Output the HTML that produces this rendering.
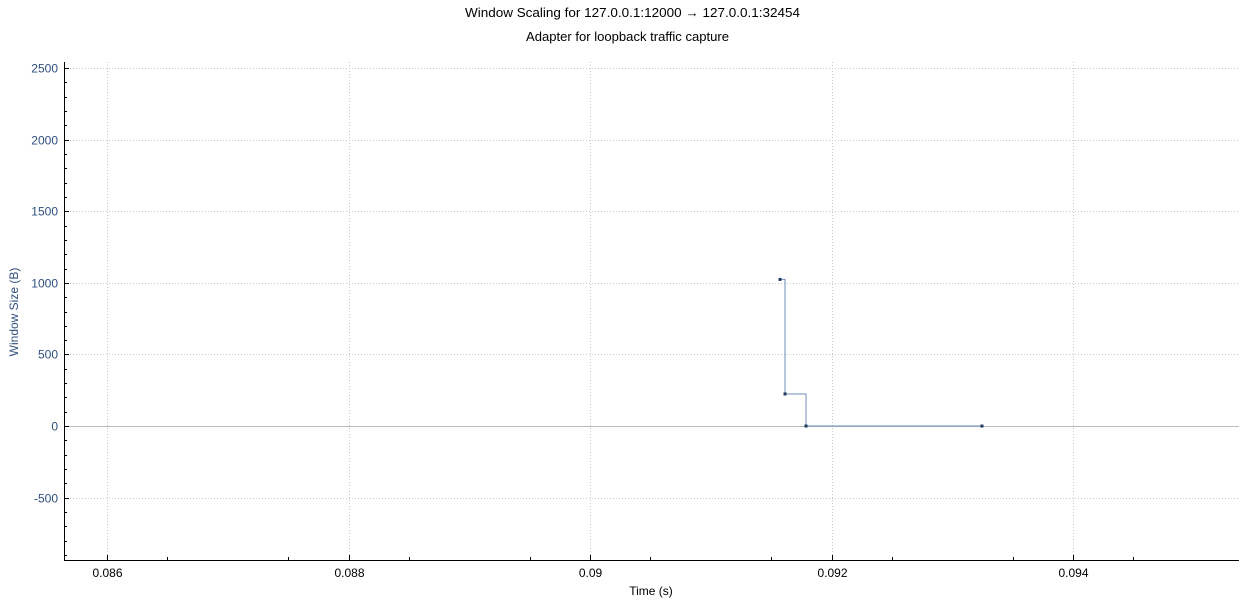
<!DOCTYPE html>
<html><head><meta charset="utf-8"><style>
body{margin:0;background:#fff;}
svg text{font-family:"Liberation Sans","DejaVu Sans",sans-serif;}
</style></head><body>
<svg id="chart" width="1254" height="604" xmlns="http://www.w3.org/2000/svg">
<text x="465" y="17" font-size="12.5" fill="#000" textLength="335" lengthAdjust="spacingAndGlyphs">Window Scaling for 127.0.0.1:12000 → 127.0.0.1:32454</text>
<text x="526" y="41" font-size="12.5" fill="#000" textLength="203" lengthAdjust="spacingAndGlyphs">Adapter for loopback traffic capture</text>
<g id="grid"></g>
<g id="axes"></g>
<g id="series"></g>
<text x="651" y="595" text-anchor="middle" font-size="12" fill="#000">Time (s)</text>
<text transform="translate(18,312) rotate(-90)" text-anchor="middle" font-size="12" fill="#2f4f7f">Window Size (B)</text>
</svg>
<script>
const times = [0.091574, 0.091615, 0.091789, 0.093246];
const windowSizes = [1024, 224, 0, 0];
const xTicks = [0.086, 0.088, 0.090, 0.092, 0.094];
const xTickLabels = ["0.086", "0.088", "0.09", "0.092", "0.094"];
const yTicks = [-500, 0, 500, 1000, 1500, 2000, 2500];

const L=64,R=1239,T=62,B=560;
const xMin=0.086-43/120750, xMax=0.086+1132/120750;
const yMin=-936, yMax=2543;
const xs=v=>L+(v-xMin)/(xMax-xMin)*(R-L);
const ys=v=>B-(v-yMin)/(yMax-yMin)*(B-T);
const NS="http://www.w3.org/2000/svg";
function mk(tag,attrs,parent){const e=document.createElementNS(NS,tag);for(const k in attrs)e.setAttribute(k,attrs[k]);parent.appendChild(e);return e;}
const grid=document.getElementById('grid'),axes=document.getElementById('axes'),ser=document.getElementById('series');
xTicks.forEach((t,i)=>{const x=Math.round(xs(t))+0.5;
 const g=mk('line',{x1:x,x2:x,y1:T,y2:B,stroke:'#c8c8c8','stroke-dasharray':'1,2'},grid);
 
 
 mk('line',{x1:x,x2:x,y1:B,y2:B-5,stroke:'#000'},axes);
 const tx=mk('text',{x:x,y:B+17,'text-anchor':'middle','font-size':12,fill:'#000'},axes);tx.textContent=xTickLabels[i];
 
 
});
for(let t=0.0865;t<xMax;t+=0.001){const x=Math.round(xs(t))+0.5;mk('line',{x1:x,x2:x,y1:B,y2:B-3,stroke:'#000'},axes);}
yTicks.forEach(t=>{const y=Math.round(ys(t))+0.5;
 const g=mk('line',{x1:L,x2:R,y1:y,y2:y,stroke:t===0?'#bbbbbb':'#c8c8c8','stroke-dasharray':t===0?'none':'1,2'},grid);
 
 
 mk('line',{x1:L,x2:L+5,y1:y,y2:y,stroke:'#000'},axes);
 const tx=mk('text',{x:L-6,y:y+4,'text-anchor':'end','font-size':12,fill:'#2f4f7f'},axes);tx.textContent=t;
 
 
});
for(let t=-900;t<yMax;t+=100){if(t%500===0)continue;const y=Math.round(ys(t))+0.5;mk('line',{x1:L,x2:L+3,y1:y,y2:y,stroke:'#000'},axes);}
mk('line',{x1:L+0.5,x2:L+0.5,y1:T,y2:B,stroke:'#000'},axes);
mk('line',{x1:L,x2:R,y1:B+0.5,y2:B+0.5,stroke:'#000'},axes);
let d='';
times.forEach((t,i)=>{const x=xs(t),y=ys(windowSizes[i]);
 if(i===0)d+=`M${x},${y}`;else d+=`H${x}V${y}`;});
const p=mk('path',{d:d,fill:'none',stroke:'#6f8fb8','stroke-width':1},ser);


times.forEach((t,i)=>{const c=mk('rect',{x:xs(t)-1.5,y:ys(windowSizes[i])-1.5,width:3,height:3,fill:'#1f3a60'},ser);
 
 
});
</script>
</body></html>
